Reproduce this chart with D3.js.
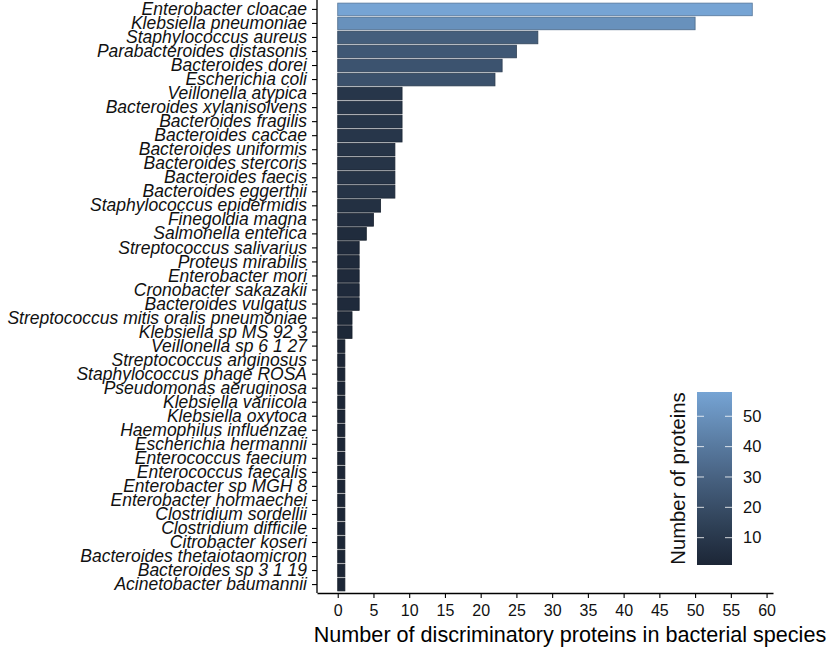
<!DOCTYPE html>
<html>
<head>
<meta charset="utf-8">
<script src="https://cdn.jsdelivr.net/npm/d3@7"></script>
<style>
  body { margin: 0; background: #fff; }
  text { font-family: "Liberation Sans", Arial, sans-serif; }
</style>
</head>
<body>
<div id="chart"></div>
<script>
// species, top to bottom
const species = [
  'Enterobacter cloacae', 'Klebsiella pneumoniae', 'Staphylococcus aureus',
  'Parabacteroides distasonis', 'Bacteroides dorei', 'Escherichia coli',
  'Veillonella atypica', 'Bacteroides xylanisolvens', 'Bacteroides fragilis',
  'Bacteroides caccae', 'Bacteroides uniformis', 'Bacteroides stercoris',
  'Bacteroides faecis', 'Bacteroides eggerthii', 'Staphylococcus epidermidis',
  'Finegoldia magna', 'Salmonella enterica', 'Streptococcus salivarius',
  'Proteus mirabilis', 'Enterobacter mori', 'Cronobacter sakazakii',
  'Bacteroides vulgatus', 'Streptococcus mitis oralis pneumoniae',
  'Klebsiella sp MS 92 3', 'Veillonella sp 6 1 27', 'Streptococcus anginosus',
  'Staphylococcus phage ROSA', 'Pseudomonas aeruginosa', 'Klebsiella variicola',
  'Klebsiella oxytoca', 'Haemophilus influenzae', 'Escherichia hermannii',
  'Enterococcus faecium', 'Enterococcus faecalis', 'Enterobacter sp MGH 8',
  'Enterobacter hormaechei', 'Clostridium sordellii', 'Clostridium difficile',
  'Citrobacter koseri', 'Bacteroides thetaiotaomicron', 'Bacteroides sp 3 1 19',
  'Acinetobacter baumannii'
]
const proteins = [
  58, 50, 28, 25, 23, 22,
  9, 9, 9, 9, 8, 8, 8, 8,
  6, 5, 4, 3, 3, 3, 3, 3,
  2, 2,
  1, 1, 1, 1, 1, 1, 1, 1, 1, 1, 1, 1, 1, 1, 1, 1, 1, 1
]
const xTicks = [0, 5, 10, 15, 20, 25, 30, 35, 40, 45, 50, 55, 60]
const legendTicks = [10, 20, 30, 40, 50]

const width = 829
const height = 649
const panel = { left: 317, right: 773, top: 1, bottom: 593 }

const data = species.map((s, i) => ({ name: s, value: proteins[i] }))

const x = d3.scaleLinear()
  .domain([-2.9, 60.9])
  .range([panel.left, panel.right])

const y = d3.scaleBand()
  .domain(species)
  .range([panel.top, panel.bottom])
  .paddingInner(0.1)
  .paddingOuter(0.15)

const color = d3.scaleLinear()
  .domain([1, 58])
  .range(['#1c2636', '#76a4d4'])
  .interpolate(d3.interpolateLab)

const svg = d3.select('#chart').append('svg')
  .attr('width', width)
  .attr('height', height)

// bars
svg.append('g')
  .selectAll('rect')
  .data(data).enter()
  .append('rect')
  .attr('x', x(0))
  .attr('y', d => y(d.name))
  .attr('width', d => x(d.value) - x(0))
  .attr('height', y.bandwidth())
  .attr('fill', d => color(d.value))
  .attr('stroke', d => d3.color(color(d.value)).darker(0.9))
  .attr('stroke-width', 0.8)

// axes
const gx = svg.append('g')
  .attr('transform', `translate(0,${panel.bottom})`)
  .call(d3.axisBottom(x).tickValues(xTicks).tickSize(5).tickSizeOuter(0).tickPadding(7))
gx.selectAll('text').attr('font-size', 16).attr('fill', '#111')

const gy = svg.append('g')
  .attr('transform', `translate(${panel.left},0)`)
  .call(d3.axisLeft(y).tickSize(5).tickSizeOuter(0).tickPadding(5))
gy.selectAll('text')
  .attr('font-size', 17.5)
  .attr('font-style', 'italic')
  .attr('fill', '#111')
gy.select('.domain').attr('d', `M0,0V${panel.bottom}`)

svg.selectAll('.domain, .tick line').attr('stroke', '#000').attr('stroke-width', 1.1)
svg.selectAll('.domain').attr('stroke-width', 1.3)
svg.selectAll('g.tick text').attr('font-family', '"Liberation Sans", Arial, sans-serif')

// x axis title
svg.append('text')
  .attr('x', 570)
  .attr('y', 642)
  .attr('text-anchor', 'middle')
  .attr('font-size', 21.6)
  .attr('fill', '#000')
  .text('Number of discriminatory proteins in bacterial species')

// colour bar legend
const legend = { x: 697, w: 35, top: 392, bottom: 565 }
const yL = d3.scaleLinear().domain([1, 58]).range([legend.bottom, legend.top])

const grad = svg.append('defs').append('linearGradient')
  .attr('id', 'cbar')
  .attr('x1', 0).attr('y1', 1).attr('x2', 0).attr('y2', 0)
d3.range(0, 1.0001, 0.1).forEach(t => {
  grad.append('stop')
    .attr('offset', t)
    .attr('stop-color', color(1 + t * 57))
})

svg.append('rect')
  .attr('x', legend.x)
  .attr('y', legend.top)
  .attr('width', legend.w)
  .attr('height', legend.bottom - legend.top)
  .attr('fill', 'url(#cbar)')

const lt = svg.append('g')
  .selectAll('g')
  .data(legendTicks).enter()
  .append('g')
  .attr('transform', d => `translate(0,${yL(d)})`)
lt.append('line')
  .attr('x1', legend.x).attr('x2', legend.x + 7)
  .attr('stroke', '#fff').attr('stroke-opacity', 0.8)
lt.append('line')
  .attr('x1', legend.x + legend.w - 7).attr('x2', legend.x + legend.w)
  .attr('stroke', '#fff').attr('stroke-opacity', 0.8)
lt.append('text')
  .attr('x', legend.x + legend.w + 11)
  .attr('dy', '0.35em')
  .attr('font-size', 16.5)
  .attr('fill', '#111')
  .text(d => d)

svg.append('text')
  .attr('transform', `translate(685,${(legend.top + legend.bottom) / 2}) rotate(-90)`)
  .attr('text-anchor', 'middle')
  .attr('font-size', 20.3)
  .attr('fill', '#111')
  .text('Number of proteins')
</script>
</body>
</html>
